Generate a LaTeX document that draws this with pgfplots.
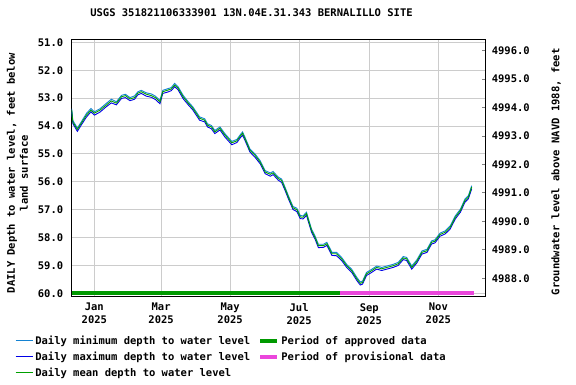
\documentclass[border=0pt]{standalone}
\usepackage{pgfplots}
\pgfplotsset{compat=1.18}
\usepackage{pgfplotstable}
\usepackage{fontspec}
\setmainfont{DejaVu Sans Mono}

\definecolor{mincol}{RGB}{20,130,210}
\definecolor{maxcol}{RGB}{0,0,230}
\definecolor{meancol}{RGB}{0,160,0}
\definecolor{approved}{RGB}{0,153,0}
\definecolor{provisional}{RGB}{235,70,220}
\definecolor{gridcol}{RGB}{204,204,204}

% day = days since 2025-01-01; depth below land surface, feet
\pgfplotstableread{
day    lo     hi     mean
-20    53.38  53.49  53.43
-19    53.80  53.91  53.85
-15    54.07  54.19  54.12
-11.5  53.85  53.96  53.90
-7     53.55  53.68  53.61
-3     53.37  53.49  53.43
0      53.49  53.61  53.54
5      53.38  53.50  53.43
10.5   53.19  53.31  53.25
15     53.04  53.17  53.10
19.5   53.13  53.24  53.18
24     52.90  53.01  52.95
27.5   52.86  52.98  52.91
31.5   52.98  53.09  53.03
35.5   52.92  53.04  52.98
38.5   52.77  52.88  52.82
41.5   52.72  52.83  52.77
46     52.81  52.93  52.86
50.5   52.85  52.97  52.91
54     52.93  53.05  52.98
58     53.08  53.20  53.13
60.5   52.72  52.83  52.77
65     52.66  52.78  52.71
68     52.62  52.73  52.67
71     52.47  52.59  52.53
74     52.59  52.70  52.64
78.5   52.90  53.02  52.95
83     53.13  53.24  53.18
87     53.31  53.42  53.36
93     53.67  53.79  53.72
97.5   53.74  53.85  53.79
100    53.92  54.03  53.97
103.5  53.98  54.10  54.03
106.5  54.16  54.27  54.21
111    54.03  54.14  54.08
115.5  54.28  54.40  54.33
121.5  54.55  54.67  54.60
126    54.48  54.59  54.53
129    54.31  54.42  54.36
131    54.21  54.33  54.26
133    54.39  54.50  54.44
137.5  54.82  54.93  54.87
142    55.00  55.12  55.05
146.5  55.24  55.35  55.29
151    55.60  55.71  55.65
155.5  55.68  55.80  55.73
158    55.63  55.74  55.68
162.5  55.83  55.94  55.88
165.5  55.90  56.02  55.95
168.5  56.19  56.30  56.24
171.5  56.50  56.61  56.55
175.5  56.88  56.99  56.93
179    56.95  57.07  57.00
182    57.21  57.32  57.26
184.5  57.22  57.33  57.27
187.5  57.09  57.20  57.14
189    57.30  57.41  57.35
192    57.70  57.81  57.75
195    57.94  58.05  57.99
198    58.24  58.36  58.29
202.5  58.24  58.35  58.29
205.5  58.17  58.28  58.22
210    58.53  58.64  58.58
214    58.53  58.65  58.58
218.5  58.71  58.82  58.76
223    58.96  59.07  59.01
227.5  59.14  59.25  59.19
232    59.43  59.54  59.48
235    59.59  59.70  59.64
237    59.56  59.67  59.61
240.5  59.25  59.36  59.30
245    59.14  59.25  59.19
249.5  59.02  59.13  59.07
254    59.07  59.18  59.12
258.5  59.02  59.13  59.07
264    58.96  59.07  59.01
268.5  58.89  59.00  58.94
273    58.68  58.79  58.73
276    58.71  58.82  58.76
280.5  59.02  59.13  59.07
285    58.80  58.91  58.85
289.5  58.48  58.59  58.53
294    58.42  58.53  58.47
298    58.12  58.23  58.17
301    58.08  58.19  58.13
305.5  57.84  57.95  57.89
310    57.76  57.87  57.81
314.5  57.58  57.69  57.63
319    57.22  57.33  57.27
323.5  56.98  57.09  57.03
327.5  56.62  56.73  56.67
330.5  56.50  56.61  56.55
333.5  56.14  56.25  56.19
}\levels

\begin{document}
\begin{tikzpicture}
\path[use as bounding box] (0,0) rectangle (576pt,-384pt);

\pgfplotsset{
  every axis/.append style={
    at={(71.7pt,-296.7pt)}, anchor=south west,
    width=413.6pt, height=257.4pt, scale only axis,
    xmin=-20, xmax=345.5,
    font=\bfseries\fontsize{10.5}{13}\selectfont,
    /pgf/number format/assume math mode=true,
    /pgf/number format/.cd, fixed, fixed zerofill, precision=1, 1000 sep={},
  },
}

\begin{axis}[
    y dir=reverse,
    ymin=50.89, ymax=60.12,
    ytick={51,52,...,60},
    xtick={0,59,120,181,243,304},
    xticklabels={Jan\\2025,Mar\\2025,May\\2025,Jul\\2025,Sep\\2025,Nov\\2025},
    xticklabel style={align=center, yshift=-3pt},
    yticklabel style={xshift=-5pt},
    tick style={draw=none},
    grid=major,
    grid style={gridcol, line width=1pt},
    axis line style={line width=1.2pt},
    title={USGS 351821106333901 13N.04E.31.343 BERNALILLO SITE},
    title style={at={(axis description cs:0.4347,1.079)}, anchor=center},
    ylabel={DAILY Depth to water level, feet below\\land surface},
    ylabel style={at={(axis description cs:-0.131,0.48)}, anchor=center, align=center},
    legend columns=2,
    legend cell align=left,
    legend style={at={(axis description cs:-0.137,-0.143)}, anchor=north west,
        draw=none, fill=none, inner sep=0pt, row sep=2pt,
        font=\bfseries\fontsize{10.5}{13}\selectfont,
        /tikz/every even column/.append style={column sep=6pt}},
]
\addlegendimage{mincol, line width=1pt}
\addlegendentry{Daily minimum depth to water level}
\addlegendimage{approved, line width=4pt}
\addlegendentry{Period of approved data}
\addlegendimage{maxcol, line width=1pt}
\addlegendentry{Daily maximum depth to water level}
\addlegendimage{provisional, line width=4pt}
\addlegendentry{Period of provisional data}
\addlegendimage{meancol, line width=1pt}
\addlegendentry{Daily mean depth to water level}

\addplot[approved, line width=4pt, forget plot] coordinates {(-20,60) (217,60)};
\addplot[provisional, line width=4pt, forget plot] coordinates {(217,60) (335.5,60)};

\addplot[mincol, line width=0.9pt, forget plot] table[x=day, y=lo] {\levels};
\addplot[maxcol, line width=0.9pt, forget plot] table[x=day, y=hi] {\levels};
\addplot[meancol, line width=0.9pt, forget plot] table[x=day, y=mean] {\levels};
\end{axis}

\begin{axis}[
    ymin=4987.35, ymax=4996.40,
    ytick={4988,4989,...,4996},
    hide x axis,
    axis y line*=right,
    axis line style={line width=1.2pt, -},
    ytick style={line width=1pt},
    major tick length=3pt,
    tick align=inside,
    yticklabel style={xshift=3pt},
    ylabel={Groundwater level above NAVD 1988, feet},
    ylabel style={at={(axis description cs:1.171,0.485)}, anchor=center},
]
\end{axis}
\end{tikzpicture}
\end{document}
